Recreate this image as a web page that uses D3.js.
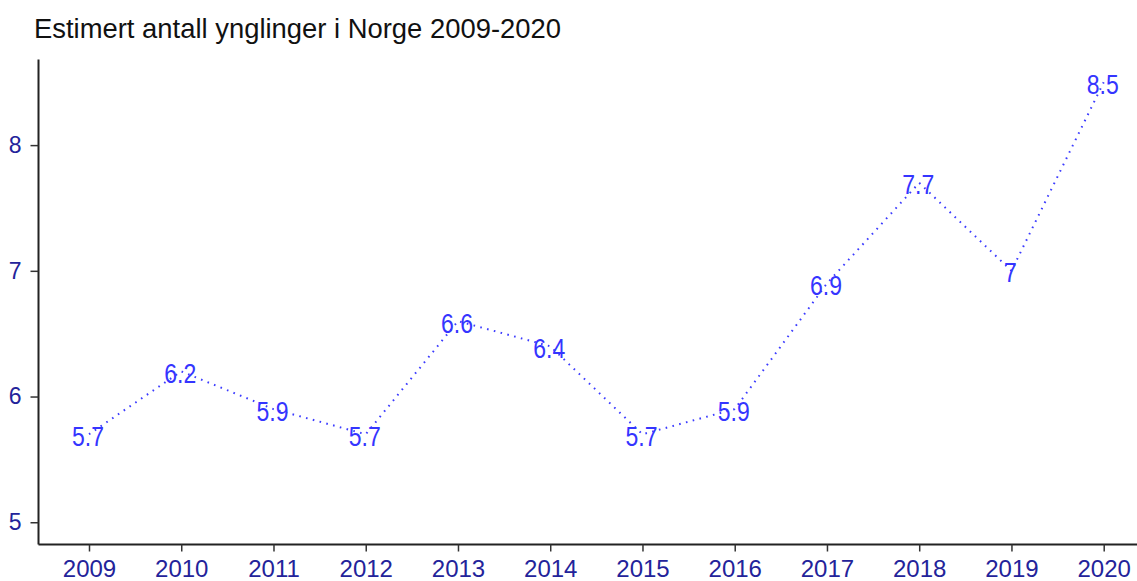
<!DOCTYPE html>
<html><head><meta charset="utf-8">
<script src="https://cdn.jsdelivr.net/npm/d3@7"></script>
<style>body{margin:0;background:#fff}svg{display:block}</style>
</head><body>
<svg id="c" width="1137" height="581"></svg>
<script>
const years = ["2009","2010","2011","2012","2013","2014","2015","2016","2017","2018","2019","2020"];
const values = [5.7, 6.2, 5.9, 5.7, 6.6, 6.4, 5.7, 5.9, 6.9, 7.7, 7.0, 8.5];
const yTicks = [5, 6, 7, 8];
const title = "Estimert antall ynglinger i Norge 2009-2020";

(function () {
const svg = d3.select("#c");
const pLeft = 38.5, pRight = 1137, pTop = 59.5, pBottom = 544.5;
const font = "'Liberation Sans', Arial, sans-serif";

const x = d3.scalePoint().domain(years).range([89, 1103.7]);
const y = d3.scaleLinear().domain([4.823, 8.681]).range([pBottom, pTop]);

// title
svg.append("text").attr("transform", "translate(34,38) scale(1,1.13)")
  .attr("font-family", font).attr("font-size", 24).attr("fill", "#111")
  .attr("textLength", 527).attr("lengthAdjust", "spacingAndGlyphs")
  .text(title);

// y axis
const gy = svg.append("g").attr("transform", `translate(${pLeft},0)`)
  .call(d3.axisLeft(y).tickValues(yTicks).tickSize(8).tickPadding(9).tickFormat(d3.format("d")));
gy.select(".domain").attr("d", `M0,${pTop}V${pBottom}`).attr("stroke", "#222").attr("stroke-width", 2);
gy.selectAll(".tick line").attr("stroke", "#333").attr("stroke-width", 1.5);
gy.selectAll(".tick text").attr("font-family", font).attr("font-size", 23).attr("fill", "#23239a");

// x axis
const gx = svg.append("g").attr("transform", `translate(0,${pBottom})`)
  .call(d3.axisBottom(x).tickSize(7).tickPadding(8));
gx.select(".domain").attr("d", `M${pLeft},0H${pRight}`).attr("stroke", "#222").attr("stroke-width", 2);
gx.selectAll(".tick line").attr("stroke", "#333").attr("stroke-width", 1.5);
gx.selectAll(".tick text").attr("font-family", font).attr("font-size", 24).attr("fill", "#23239a");

// dotted line
const line = d3.line().x((d, i) => x(years[i])).y(d => y(d));
svg.append("path").datum(values).attr("d", line)
  .attr("fill", "none").attr("stroke", "#3b3bff").attr("stroke-width", 2)
  .attr("stroke-dasharray", "1.6 5.4");

// labels
svg.append("g").selectAll("text").data(values).join("text")
  .attr("transform", (d, i) => `translate(${x(years[i]) - 1},${y(d) + 2}) scale(1,1.17)`)
  .attr("text-anchor", "middle").attr("dominant-baseline", "central")
  .attr("font-family", font).attr("font-size", 23).attr("fill", "#3535ff")
  .text(d => d3.format(".1~f")(d));
})();
</script>
</body></html>
